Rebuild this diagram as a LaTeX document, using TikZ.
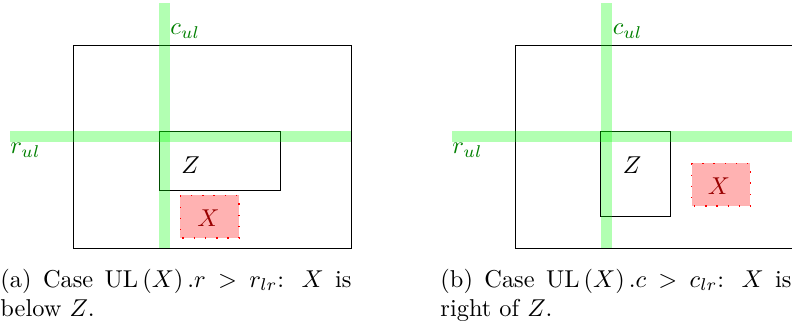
\documentclass[tikz,border=0pt]{standalone}
\usepackage{amsmath}
\begin{document}
\begin{tikzpicture}[x=0.41pt,y=-0.41pt,
  band/.style={draw=green,draw opacity=0.3,line width=10.5*0.41pt,line cap=butt},
  lbl/.style={text=green!50!black,inner sep=0pt},
  zbox/.style={draw=black,line width=0.4pt},
  xbox/.style={draw=red,fill=red,fill opacity=0.3,loosely dotted,line width=0.6pt},
  xlbl/.style={text=red!60!black,inner sep=0pt},
  captext/.style={anchor=base west,inner sep=0pt,text width=351*0.41pt,align=justify}]
\useasboundingbox (0,0) rectangle (792,324);
% ---- panel (a)
\draw[zbox] (73.7,45.7) rectangle (351.3,248.3);
\draw[zbox] (159,131) rectangle (280,190);
\draw[xbox] (180.3,195.3) rectangle (239,238);
\draw[band] (164.5,3.3) -- (164.5,248.3);
\draw[band] (10,136.3) -- (351.3,136.3);
\node[lbl,anchor=base west] (cula) at (170,35) {$c_{ul}$};
\node[lbl,anchor=base west] (rula) at (10,154) {$r_{ul}$};
\node[inner sep=0pt,anchor=base] (za) at (190.5,173.5) {$Z$};
\node[xlbl,anchor=base] (xa) at (208.5,226.7) {$X$};
\node[captext] (capa) at (0,287.3) {(a) Case $\mathrm{UL}\left(X\right).r > r_{lr}$: $X$ is below $Z$.};
% ---- panel (b)
\draw[zbox] (515.7,45.7) rectangle (793.4,248.3);
\draw[zbox] (600.7,131) rectangle (670.7,216.3);
\draw[xbox] (691.7,163.3) rectangle (750.3,206);
\draw[band] (606.5,3.3) -- (606.5,248.3);
\draw[band] (452,136.3) -- (795,136.3);
\node[lbl,anchor=base west] (culb) at (612.3,35) {$c_{ul}$};
\node[lbl,anchor=base west] (rulb) at (452,154) {$r_{ul}$};
\node[inner sep=0pt,anchor=base] (zb) at (632,173.5) {$Z$};
\node[xlbl,anchor=base] (xb) at (719,195) {$X$};
\node[captext] (capb) at (440,287.3) {(b) Case $\mathrm{UL}\left(X\right).c > c_{lr}$: $X$ is right of $Z$.};
\end{tikzpicture}
\end{document}
